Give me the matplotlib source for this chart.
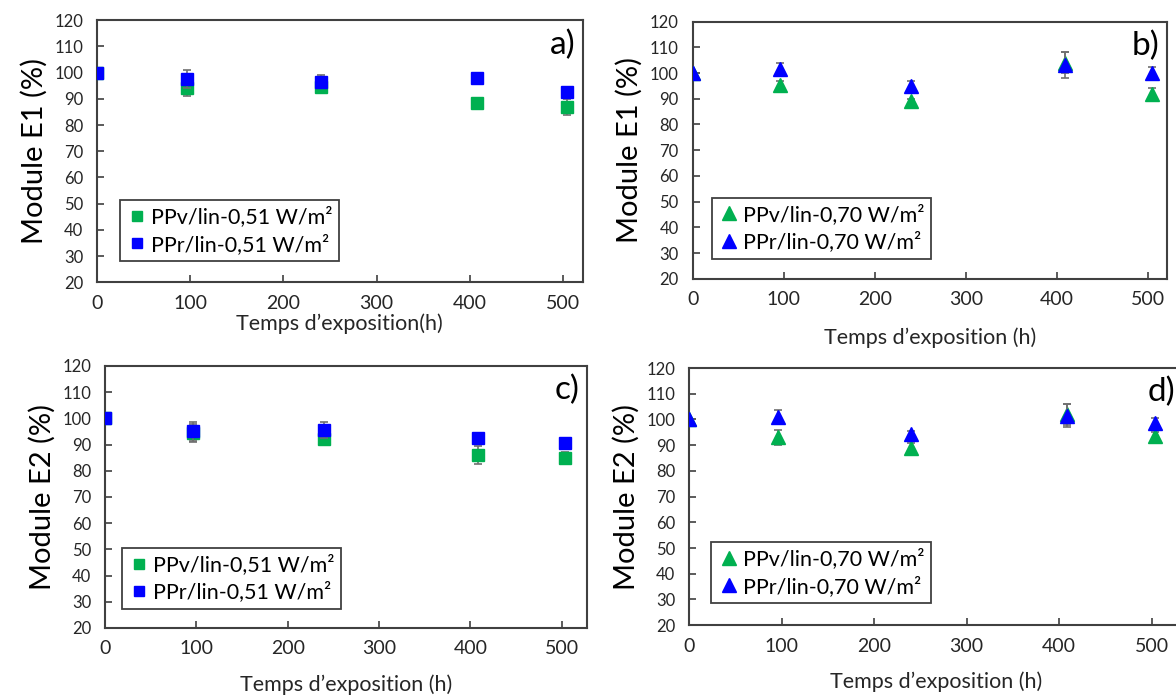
import matplotlib
matplotlib.use("Agg")
import matplotlib.pyplot as plt

plt.rcParams['font.family'] = ['Lato', 'DejaVu Sans']

# Data
hours = [0, 96, 240, 408, 504]

a_ppv = [100, 94, 94.5, 88.5, 87]
a_ppv_err = [0, 3, 1, 1.5, 3]
a_ppr = [100, 97.5, 96.5, 98, 92.5]
a_ppr_err = [0, 3.5, 2.5, 1, 1]

b_ppv = [100, 95.5, 89, 104, 92]
b_ppv_err = [0, 1.5, 1, 4, 2]
b_ppr = [100, 101.5, 95, 103, 100]
b_ppr_err = [0, 2.5, 2, 5, 2.5]

c_ppv = [100, 94.5, 92, 86, 85]
c_ppv_err = [0, 3.5, 1, 3.5, 2]
c_ppr = [100, 95, 95.5, 92.5, 90.5]
c_ppr_err = [0, 3.5, 3, 1, 1]

d_ppv = [100, 93, 89, 102, 93.5]
d_ppv_err = [0, 3, 2, 4, 1.5]
d_ppr = [100, 101, 94.5, 101.5, 98.5]
d_ppr_err = [0, 2.5, 1, 4.5, 2]

labels_051 = ["PPv/lin-0,51 W/m²", "PPr/lin-0,51 W/m²"]
labels_070 = ["PPv/lin-0,70 W/m²", "PPr/lin-0,70 W/m²"]
yticks = list(range(20, 121, 10))
xticks = [0, 100, 200, 300, 400, 500]

GREEN = '#00B050'
BLUE = '#0000FF'
ERR = '#6F6F6F'
SPINE = '#404040'
TXT = '#262626'

fig = plt.figure(figsize=(11.76, 6.97), dpi=100)

panels = [
    # rect, xmax, ppv, ppv_err, ppr, ppr_err, marker, labels, ylabel, xlabel, tag, legend loc, xlabelpad
    ([0.0825, 0.595, 0.413, 0.376], 521, a_ppv, a_ppv_err, a_ppr, a_ppr_err, 's', labels_051,
     'Module E1 (%)', "Temps d’exposition(h)", 'a)', (0.047, 0.08), 1),
    ([0.589, 0.600, 0.403, 0.369], 520, b_ppv, b_ppv_err, b_ppr, b_ppr_err, '^', labels_070,
     'Module E1 (%)', "Temps d’exposition (h)", 'b)', (0.04, 0.078), 14),
    ([0.0893, 0.099, 0.410, 0.376], 528, c_ppv, c_ppv_err, c_ppr, c_ppr_err, 's', labels_051,
     'Module E2 (%)', "Temps d’exposition (h)", 'c)', (0.035, 0.073), 12),
    ([0.586, 0.103, 0.420, 0.369], 534, d_ppv, d_ppv_err, d_ppr, d_ppr_err, '^', labels_070,
     'Module E2 (%)', "Temps d’exposition (h)", 'd)', (0.045, 0.086), 12),
]

for rect, xmax, ppv, ppv_e, ppr, ppr_e, mk, labs, ylab, xlab, tag, lloc, xpad in panels:
    ax = fig.add_axes(rect)
    ms = 8 if mk == 's' else 10
    e1 = ax.errorbar(hours, ppv, yerr=ppv_e, fmt=mk, color=GREEN, ms=ms, ecolor=ERR,
                     elinewidth=1.2, capsize=3, capthick=1.2, zorder=3)
    e2 = ax.errorbar(hours, ppr, yerr=ppr_e, fmt=mk, color=BLUE, ms=ms, ecolor=ERR,
                     elinewidth=1.2, capsize=3, capthick=1.2, zorder=4)
    ax.set_xlim(0, xmax)
    ax.set_ylim(20, 120)
    ax.set_xticks(xticks)
    ax.set_yticks(yticks)
    ax.tick_params(axis='x', direction='in', length=5, width=1.2, color=SPINE,
                   labelsize=14, labelcolor=TXT, pad=9)
    ax.tick_params(axis='y', direction='in', length=5, width=1.2, color=SPINE,
                   labelsize=12, labelcolor=TXT, pad=10)
    for s in ax.spines.values():
        s.set_color(SPINE)
        s.set_linewidth(1.5)
    ax.set_ylabel(ylab, fontsize=21, color='black', labelpad=5)
    ax.set_xlabel(xlab, fontsize=15.5, color=TXT, labelpad=xpad)
    ax.text(0.985, 0.965, tag, transform=ax.transAxes, ha='right', va='top',
            fontsize=24, color='black')
    leg = ax.legend([e1[0], e2[0]], labs, loc='lower left', bbox_to_anchor=lloc,
                    fontsize=15.5, frameon=True, fancybox=False, edgecolor=SPINE,
                    handletextpad=0.15, handlelength=1.0, borderpad=0.3,
                    labelspacing=0.3, borderaxespad=0, framealpha=1)
    leg.get_frame().set_linewidth(1.3)
    for h in leg.legend_handles:
        h.set_markersize(7.5 if mk == 's' else 10)

fig.savefig('out.png', dpi=100)
